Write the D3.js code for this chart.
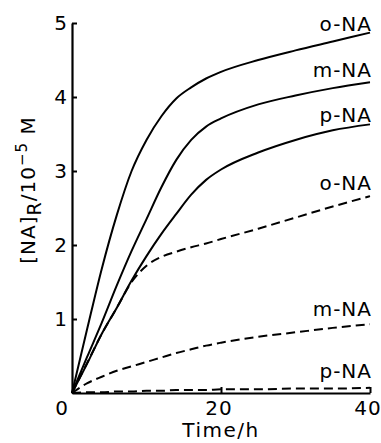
<!DOCTYPE html>
<html>
<head>
<meta charset="utf-8">
<script src="https://cdn.jsdelivr.net/npm/d3@7"></script>
<style>
  body { margin: 0; background: #fff; }
  svg text { font-family: "DejaVu Sans", sans-serif; fill: #000; }
</style>
</head>
<body>
<svg id="chart" width="381" height="443"></svg>
<script>
// time points (h)
var times = [0, 2, 4, 6, 8, 10, 12, 14, 16, 18, 20, 25, 30, 35, 40];

// [NA]R / 10^-5 M
var oSolid = [0, 0.85, 1.68, 2.4, 3.0, 3.42, 3.74, 3.98, 4.13, 4.25, 4.34, 4.5, 4.63, 4.75, 4.87];
var mSolid = [0, 0.48, 0.95, 1.45, 1.92, 2.35, 2.78, 3.15, 3.42, 3.6, 3.71, 3.9, 4.02, 4.12, 4.2];
var pSolid = [0, 0.39, 0.8, 1.15, 1.52, 1.85, 2.15, 2.42, 2.68, 2.88, 3.02, 3.25, 3.42, 3.55, 3.63];
var oDash = [0, 0.4, 0.8, 1.15, 1.5, 1.72, 1.84, 1.91, 1.97, 2.02, 2.08, 2.22, 2.37, 2.52, 2.66];
var mDash = [0, 0.13, 0.22, 0.3, 0.36, 0.42, 0.48, 0.54, 0.59, 0.64, 0.68, 0.76, 0.82, 0.88, 0.93];
var pDash = [0, 0.01, 0.01, 0.02, 0.02, 0.03, 0.03, 0.04, 0.04, 0.04, 0.05, 0.05, 0.06, 0.06, 0.07];

var xTicks = [0, 20, 40];
var yTicks = [0, 1, 2, 3, 4, 5];

var series = [
  { name: "o-NA", values: oSolid, dashed: false },
  { name: "m-NA", values: mSolid, dashed: false },
  { name: "p-NA", values: pSolid, dashed: false },
  { name: "o-NA", values: oDash, dashed: true },
  { name: "m-NA", values: mDash, dashed: true },
  { name: "p-NA", values: pDash, dashed: true }
];
// label baselines, in data units (y)
var labelY = [4.89, 4.27, 3.66, 2.74, 1.04, 0.2];

var chart = {
  left: 72, right: 370, top: 23, bottom: 393,

  init: function() {
    var svg = d3.select('#chart');
    var x = d3.scaleLinear().domain([0, 40]).range([chart.left, chart.right]);
    var y = d3.scaleLinear().domain([0, 5]).range([chart.bottom, chart.top]);

    // axes, ticks pointing inward
    svg.append('g')
      .attr('transform', 'translate(' + chart.left + ',0)')
      .call(d3.axisRight(y).tickValues(yTicks.slice(1)).tickSize(5).tickSizeOuter(0).tickFormat(''));
    svg.append('g')
      .attr('transform', 'translate(0,' + chart.bottom + ')')
      .call(d3.axisTop(x).tickValues(xTicks.slice(1)).tickSize(6).tickSizeOuter(0).tickFormat(''));
    svg.selectAll('.domain').attr('stroke', '#000').attr('stroke-width', 2.2);
    svg.selectAll('.tick line').attr('stroke', '#000').attr('stroke-width', 2);

    // tick labels
    svg.selectAll('.ylab')
      .data(yTicks.slice(1))
      .enter().append('text')
      .attr('class', 'ylab')
      .attr('x', chart.left - 5)
      .attr('y', function(d) { return y(d); })
      .attr('dy', '0.36em')
      .attr('text-anchor', 'end')
      .style('font-size', '20px')
      .text(function(d) { return d; });

    svg.selectAll('.xlab')
      .data(xTicks)
      .enter().append('text')
      .attr('class', 'xlab')
      .attr('x', function(d) { return d === 0 ? x(d) - 10 : x(d) - 2; })
      .attr('y', chart.bottom + 22)
      .attr('text-anchor', 'middle')
      .style('font-size', '20px')
      .style('letter-spacing', '1px')
      .text(function(d) { return d; });

    svg.append('text')
      .attr('x', 221)
      .attr('y', 437)
      .attr('text-anchor', 'middle')
      .style('font-size', '20px')
      .style('letter-spacing', '1.5px')
      .text('Time/h');

    var ylabel = svg.append('text')
      .attr('transform', 'translate(35,190) rotate(-90)')
      .attr('text-anchor', 'middle')
      .style('font-size', '20px')
      .style('letter-spacing', '1px');
    ylabel.append('tspan').text('[NA]');
    ylabel.append('tspan').attr('dy', 6).style('font-size', '19px').text('R');
    ylabel.append('tspan').attr('dy', -6).text('/10');
    ylabel.append('tspan').attr('dy', -8).style('font-size', '15px').text('\u22125');
    ylabel.append('tspan').attr('dy', 8).text(' M');

    // curves
    var line = d3.line()
      .x(function(d, i) { return x(times[i]); })
      .y(function(d) { return y(d); })
      .curve(d3.curveMonotoneX);

    svg.selectAll('.curve')
      .data(series)
      .enter().append('path')
      .attr('class', 'curve')
      .attr('fill', 'none')
      .attr('stroke', '#000')
      .attr('stroke-width', 2)
      .attr('stroke-dasharray', function(d) { return d.dashed ? '9,5' : null; })
      .attr('d', function(d) { return line(d.values); });

    svg.selectAll('.lbl')
      .data(series)
      .enter().append('text')
      .attr('class', 'lbl')
      .attr('x', chart.right + 2)
      .attr('y', function(d, i) { return y(labelY[i]); })
      .attr('text-anchor', 'end')
      .style('font-size', '20px')
      .style('letter-spacing', '1px')
      .text(function(d) { return d.name; });
  }
};

chart.init();
</script>
</body>
</html>
